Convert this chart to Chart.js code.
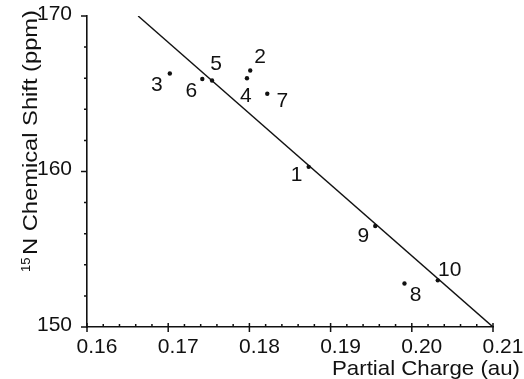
<!DOCTYPE html>
<html lang="en">
<head>
  <meta charset="UTF-8">
  <title>15N Chemical Shift vs Partial Charge</title>
  <script src="https://cdn.jsdelivr.net/npm/chart.js"></script>
  <style>
    * { box-sizing: border-box; margin: 0; padding: 0; }
    body { background: #fff; width: 524px; height: 379px; overflow: hidden; }
  </style>
</head>
<body>

<canvas id="shiftChart" width="524" height="379"></canvas>

<script>
  // data
  const compounds = ['1', '2', '3', '4', '5', '6', '7', '8', '9', '10'];
  const charge = [0.1873, 0.1801, 0.1702, 0.1797, 0.1754, 0.1742, 0.1822, 0.1991, 0.1955, 0.2032];
  const shift = [160.3, 166.5, 166.3, 166.0, 165.85, 165.95, 165.0, 152.8, 156.5, 153.0];
  const fitCharge = [0.1663, 0.21];
  const fitShift = [170, 150];
  const xTicks = [0.16, 0.17, 0.18, 0.19, 0.20, 0.21];
  const yTicks = [150, 160, 170];

  // where each number sits relative to its dot (px)
  const labelDx = [-12, 10, -13, -1, 4, -11, 15, 11, -12, 12];
  const labelDy = [8, -13, 12, 18, -16, 12, 7, 12, 10, -10];

  const ink = '#111';
  const font = 'Liberation Sans, Arial, Helvetica, sans-serif';

  const decorations = {
    id: 'decorations',
    afterDraw(chart) {
      const ctx = chart.ctx;
      const xs = chart.scales.x, ys = chart.scales.y;
      const x0 = xs.left, y0 = ys.bottom;

      ctx.save();
      ctx.strokeStyle = ink;
      ctx.lineWidth = 1.5;
      ctx.beginPath();
      // x ticks: minor every 0.002 inside, major crossing
      for (let i = 0; i <= 25; i++) {
        const px = xs.getPixelForValue(0.16 + i * 0.002);
        if (i % 5 === 0) { ctx.moveTo(px, y0 - 4); ctx.lineTo(px, y0 + 5); }
        else { ctx.moveTo(px, y0 - 3); ctx.lineTo(px, y0); }
      }
      // y ticks: minor every 2, outward
      for (let v = 150; v <= 170; v += 2) {
        const py = ys.getPixelForValue(v);
        const len = (v % 10 === 0) ? 6 : 3;
        ctx.moveTo(x0 - len, py); ctx.lineTo(x0, py);
      }
      ctx.stroke();

      // numbers next to dots
      const meta = chart.getDatasetMeta(0);
      ctx.fillStyle = ink;
      ctx.font = '21px ' + font;
      ctx.textAlign = 'center';
      ctx.textBaseline = 'middle';
      meta.data.forEach((pt, i) => {
        ctx.fillText(compounds[i], pt.x + labelDx[i], pt.y + labelDy[i]);
      });

      // x title
      ctx.textAlign = 'left';
      ctx.textBaseline = 'alphabetic';
      ctx.font = '21px ' + font;
      const xt = 'Partial Charge (au)';
      const xw = ctx.measureText(xt).width;
      ctx.save();
      ctx.translate(332, 375);
      ctx.scale(188 / xw, 1);
      ctx.fillText(xt, 0, 0);
      ctx.restore();

      // y title, rotated
      ctx.save();
      ctx.translate(37, 272);
      ctx.rotate(-Math.PI / 2);
      ctx.font = '13px ' + font;
      ctx.fillText('15', 0, -7);
      ctx.font = '21px ' + font;
      const yt = 'N Chemical Shift (ppm)';
      const yw = ctx.measureText(yt).width;
      ctx.translate(17, 0);
      ctx.scale(245 / yw, 1);
      ctx.fillText(yt, 0, 0);
      ctx.restore();

      ctx.restore();
    }
  };

  new Chart(document.getElementById('shiftChart'), {
    type: 'scatter',
    data: {
      datasets: [{
        data: charge.map((x, i) => ({ x: x, y: shift[i] })),
        pointRadius: 2.2,
        pointBackgroundColor: ink,
        pointBorderWidth: 0
      }, {
        type: 'line',
        data: fitCharge.map((x, i) => ({ x: x, y: fitShift[i] })),
        borderColor: ink,
        borderWidth: 1.4,
        pointRadius: 0,
        fill: false
      }]
    },
    options: {
      responsive: false,
      animation: false,
      devicePixelRatio: 1,
      layout: { padding: { left: 27, right: 31, top: 16, bottom: 12 } },
      plugins: { legend: { display: false }, tooltip: { enabled: false } },
      scales: {
        x: {
          type: 'linear',
          min: 0.16,
          max: 0.21,
          afterBuildTicks: s => { s.ticks = xTicks.map(v => ({ value: v })); },
          afterFit: s => {
            s.height = 40;
            s.paddingLeft = 0; s.paddingRight = 0; s.paddingTop = 0; s.paddingBottom = 0;
          },
          grid: { display: false, drawTicks: false },
          border: { display: true, color: ink, width: 1.6 },
          ticks: {
            color: ink,
            font: { family: font, size: 21 },
            padding: 8,
            labelOffset: 10,
            maxRotation: 0,
            autoSkip: false,
            callback: v => v.toFixed(2)
          }
        },
        y: {
          type: 'linear',
          min: 150,
          max: 170,
          afterBuildTicks: s => { s.ticks = yTicks.map(v => ({ value: v })); },
          afterFit: s => {
            s.width = 60;
            s.paddingLeft = 0; s.paddingRight = 0; s.paddingTop = 0; s.paddingBottom = 0;
          },
          grid: { display: false, drawTicks: false },
          border: { display: true, color: ink, width: 1.6 },
          ticks: {
            color: ink,
            font: { family: font, size: 21 },
            padding: 15,
            labelOffset: -2,
            autoSkip: false,
            callback: v => String(v)
          }
        }
      }
    },
    plugins: [decorations]
  });
</script>

</body>
</html>
